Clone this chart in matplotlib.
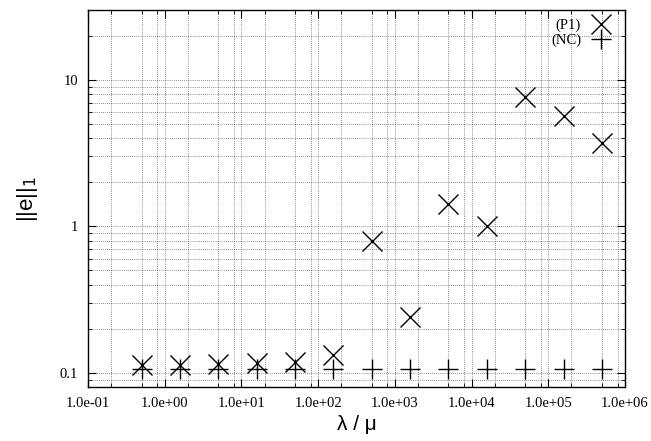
import matplotlib
matplotlib.use('Agg')
import matplotlib.pyplot as plt
from matplotlib.ticker import LogLocator, FixedLocator, NullFormatter
import numpy as np

# lambda / mu values and error norms
lam = [0.5, 1.58, 5, 15.8, 50, 158, 500, 1580, 5000, 15800, 50000, 158000, 500000]
err_p1 = [0.113, 0.113, 0.115, 0.116, 0.118, 0.132, 0.79, 0.24, 1.41, 1.0, 7.66, 5.69, 3.73]
err_nc = [0.107, 0.107, 0.107, 0.107, 0.107, 0.107, 0.107, 0.107, 0.107, 0.107, 0.107, 0.107, 0.107]

xticks = [1e-1, 1e0, 1e1, 1e2, 1e3, 1e4, 1e5, 1e6]
xticklabels = ['1.0e-01', '1.0e+00', '1.0e+01', '1.0e+02', '1.0e+03', '1.0e+04', '1.0e+05', '1.0e+06']
yticks = [0.1, 1, 10]
yticklabels = ['0.1', '1', '10']

serif = ['Liberation Serif', 'DejaVu Serif']
sans = ['Liberation Sans', 'DejaVu Sans']

fig = plt.figure(figsize=(6.51, 4.41), dpi=100)
ax = fig.add_axes([88 / 651, 1 - 387 / 441, (625 - 88) / 651, (387 - 10) / 441])

ax.plot(lam, err_p1, linestyle='none', marker='x', markersize=15, markeredgewidth=1.0,
        color='black', label='(P1)')
ax.plot(lam, err_nc, linestyle='none', marker='+', markersize=15, markeredgewidth=1.0,
        color='black', label='(NC)')

ax.set_xscale('log')
ax.set_yscale('log')
ax.set_xlim(1e-1, 1e6)
ax.set_ylim(0.08, 30)

ax.xaxis.set_major_locator(FixedLocator(xticks))
ax.set_xticks(xticks)
ax.set_xticklabels(xticklabels, fontfamily=serif, fontsize=10.5)
ax.xaxis.set_minor_locator(LogLocator(base=10, subs=[2, 5, 8], numticks=20))
ax.xaxis.set_minor_formatter(NullFormatter())

ax.set_yticks(yticks)
ax.set_yticklabels(yticklabels, fontfamily=serif, fontsize=10.5)
ax.yaxis.set_minor_locator(LogLocator(base=10, subs=np.arange(2, 10), numticks=20))
ax.yaxis.set_minor_formatter(NullFormatter())

ax.tick_params(which='both', direction='in', top=True, right=True, color='black')
ax.tick_params(which='major', length=6, width=0.8, pad=7)
ax.tick_params(which='minor', length=3, width=0.6)

ax.grid(True, which='both', color='black', linewidth=0.5, linestyle=(0, (1, 2)), alpha=0.85)
ax.set_axisbelow(True)

for sp in ax.spines.values():
    sp.set_linewidth(1.0)

ax.set_xlabel('λ / μ', fontfamily=sans, fontsize=15, labelpad=4)
ax.set_ylabel('||e||$_1$', fontfamily=sans, fontsize=16, labelpad=14)

ax.legend(loc='upper right', bbox_to_anchor=(1 - 9 / 537, 1 - 4 / 377),
          frameon=False, markerfirst=False,
          prop={'family': serif, 'size': 10.5}, handlelength=1.5,
          borderaxespad=0.2, labelspacing=0.1, handletextpad=0.6, borderpad=0.1)

plt.savefig('out.png', dpi=100)
